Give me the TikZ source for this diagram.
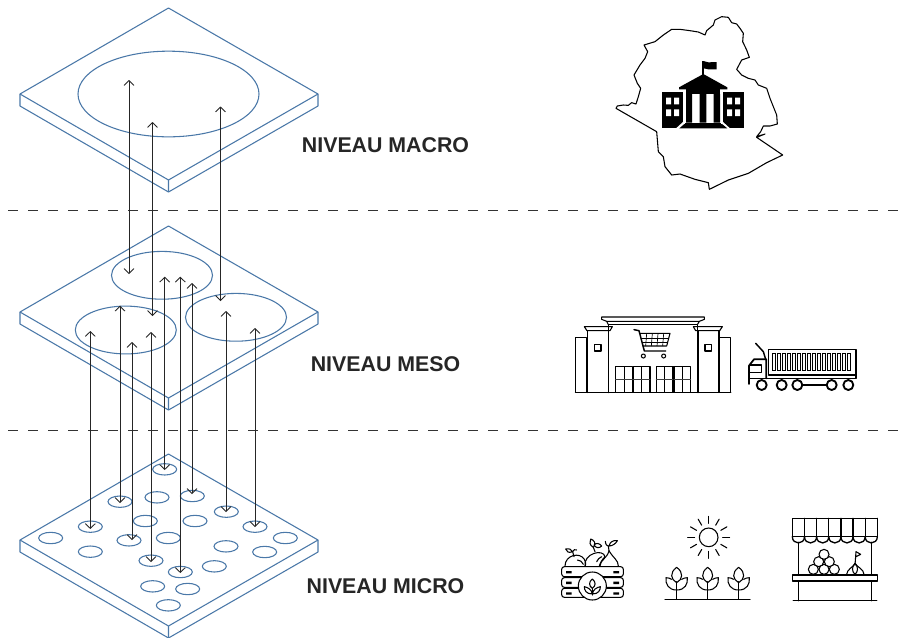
\documentclass[tikz,border=0pt]{standalone}
\usepackage{fontspec}
\setmainfont{Liberation Sans}
\usetikzlibrary{arrows.meta,shapes.geometric}
\definecolor{plate}{HTML}{4A78A8}
\tikzset{
  plateline/.style={draw=plate,line width=0.8pt,line join=round},
  disc/.style={ellipse,draw=plate,line width=0.8pt,inner sep=0pt,minimum width=#1*1.5pt,minimum height=#1*0.71pt},
  link/.style={draw=black!85,line width=0.65pt,{Straight Barb[length=3.6pt,width=7.5pt]}-{Straight Barb[length=3.6pt,width=7.5pt]}},
  levelsep/.style={draw=black!80,line width=0.7pt,dash pattern=on 7.5pt off 7.5pt},
  level/.style={font=\bfseries\fontsize{16}{19}\selectfont,text=black!85,inner sep=0pt},
  ico/.style={line width=0.8pt,draw=black,line join=round,line cap=round},
  icothin/.style={line width=0.5pt,draw=black},
  zoomed/.style={x=0.25pt,y=-0.25pt}
}
\newcommand{\plateat}[1]{%
  \draw[plateline,fill=white] (168.5,#1) -- (318,#1+86) -- (318,#1+98) -- (168.5,#1+184) -- (20,#1+98) -- (20,#1+86) -- cycle;
  \draw[plateline] (20,#1+86) -- (168.5,#1+172) -- (318,#1+86) (168.5,#1+172) -- (168.5,#1+184);
}
\begin{document}
\begin{tikzpicture}[x=0.75pt,y=-0.75pt]
\useasboundingbox (0,0) rectangle (899,637);
\fill[white] (0,0) rectangle (899,637);

% plates
\plateat{8}
\plateat{226}
\plateat{454}

% macro and meso discs
\node[disc=90.5] (macro) at (168.5,94) {};
\node[disc=50.5] (mesoA) at (162,275.3) {};
\node[disc=50.5] (mesoB) at (125.8,330) {};
\node[disc=50.5] (mesoC) at (236,317.3) {};

% micro discs
\foreach \i/\a/\b in {1/494/118,2/360/215,3/471/202,4/577/198,5/271/290,6/436/273,7/585/273,8/679/245,9/765/290,10/856/324,11/152/324,12/387/331,13/505/324,14/678/349,15/271/365,16/794/366,17/453/392,18/643/409,19/541/426,20/458/469,21/563/477,22/505/526}
  \node[disc=12] (micro\i) at ({\a/3},{430+\b/3}) {};

% level separators
\coordinate (sepAl) at (8,210); \coordinate (sepAr) at (898,210);
\coordinate (sepBl) at (8,430); \coordinate (sepBr) at (898,430);
\draw[levelsep] (sepAl) -- (sepAr);
\draw[levelsep] (sepBl) -- (sepBr);

% two-way links
\foreach \i/\x/\t/\b in {1/129/80/274,2/152.5/122/316,3/220.5/106.5/301,
  4/90.3/331/529,5/120/305.7/503,6/132/342/540,7/151/332/562,8/164.7/276.7/470,
  9/180.3/276.7/573,10/192/283/494,11/226/311/512,12/255/328/527}{
  \coordinate (up\i) at (\x,\t);
  \coordinate (down\i) at (\x,\b);
  \draw[link] (up\i) -- (down\i);
}

% labels
\node[level] (lmacro) at (385.5,145) {NIVEAU MACRO};
\node[level] (lmeso) at (385.5,364) {NIVEAU MESO};
\node[level] (lmicro) at (385.5,586) {NIVEAU MICRO};

% Region outline and town hall
\begin{scope}[shift={(600,0)},x=0.25pt,y=-0.25pt]
\draw[line width=0.8pt,line join=round] (48,325) -- (52,318) -- (70,315) -- (85,316) -- (95,308) -- (108,312) -- (115,290) -- (122,265) -- (112,250) -- (102,225) -- (120,195) -- (135,175) -- (143,155) -- (132,135) -- (165,125) -- (190,105) -- (215,88) -- (240,88) -- (270,92) -- (295,96) -- (315,105) -- (320,92) -- (340,75) -- (345,60) -- (365,50) -- (385,52) -- (395,68) -- (410,72) -- (420,85) -- (430,100) -- (428,125) -- (440,150) -- (448,172) -- (425,180) -- (410,208) -- (425,225) -- (445,235) -- (465,240) -- (475,255) -- (500,265) -- (510,295) -- (520,320) -- (530,345) -- (532,372) -- (510,378) -- (490,378) -- (482,395) -- (470,410) -- (495,402) -- (470,412) -- (548,465) -- (500,488) -- (445,520) -- (385,540) -- (328,568) -- (325,548) -- (285,538) -- (240,522) -- (215,525) -- (195,500) -- (190,470) -- (175,455) -- (170,395) -- cycle;
\fill (186,275) rectangle (250,385);
\fill (368,275) rectangle (432,385);
\fill[white] (198,293) rectangle (213,313) (222,293) rectangle (237,313) (198,328) rectangle (213,348) (222,328) rectangle (237,348);
\fill[white] (381,293) rectangle (396,313) (405,293) rectangle (420,313) (381,328) rectangle (396,348) (405,328) rectangle (420,348);
\fill[white] (250,385) -- (228,385) -- (250,365) -- cycle (368,385) -- (390,385) -- (368,365) -- cycle;
\fill (237,268) -- (237,262) -- (310,222) -- (382,262) -- (382,268) -- cycle;
\fill (258,268) rectangle (360,282);
\fill (258,282) rectangle (276,368) (299,282) rectangle (319,368) (341,282) rectangle (360,368);
\fill (255,368) rectangle (363,372);
\fill (238,385) -- (253,372) -- (366,372) -- (382,385) -- cycle;
\fill (306,182) rectangle (311,225);
\fill (310,183) -- (325,187) -- (350,186) -- (350,208) -- (325,208) -- (311,205) -- cycle;
\end{scope}

% Supermarket
\begin{scope}[shift={(565,310)},zoomed]
\draw[ico] (32,247) -- (32,83) -- (65,83) -- (65,247);
\draw[ico] (464,247) -- (464,83) -- (497,83) -- (497,247);
\draw[ico,line width=1.1pt] (68,247) -- (68,62) -- (130,62) -- (130,247);
\draw[ico,line width=1.1pt] (400,247) -- (400,62) -- (462,62) -- (462,247);
\draw[ico] (58,50) -- (142,50) -- (135,62) -- (66,62) -- cycle;
\draw[ico] (392,62) -- (385,50) -- (472,50) -- (464,62) -- cycle;
\draw[ico,line width=1.1pt] (130,50) -- (130,44) -- (397,44) -- (397,50);
\draw[ico] (110,21) -- (418,21) -- (418,28) -- (403,34) -- (125,34) -- (110,28) -- cycle;
\draw[ico] (125,34) -- (130,44) (403,34) -- (397,44);
\draw[ico,line width=1.1pt] (130,50) -- (130,247) (397,50) -- (397,247);
\draw[ico,line width=1.1pt] (32,247) -- (497,247);
\draw[ico] (88,103) rectangle (108,123) (420,103) rectangle (440,123);
% cart
\draw[ico,line width=1.1pt] (207,59) -- (222,62) -- (238,123) -- (302,123);
\draw[ico] (226,70) -- (315,70) -- (305,108) -- (234,108);
\draw[icothin] (228,84) -- (311,84) (232,96) -- (308,96);
\foreach \x in {245,262,279,296} \draw[icothin] (\x,70) -- (\x-3,108);
\draw[ico] (235,138) circle[radius=6] (296,138) circle[radius=6];
% doors
\foreach \xa in {152,205,274,327}{
  \draw[ico] (\xa,247) -- (\xa,170) -- (\xa+50,170) -- (\xa+50,247);
  \draw[icothin,line width=0.7pt] (\xa+25,170) -- (\xa+25,247);
  \draw[ico,draw=black!75] (\xa,208) -- (\xa+50,208);
}
\end{scope}

% Truck
\begin{scope}[shift={(565,310)},zoomed]
\draw[ico,line width=1.1pt] (610,118) rectangle (873,195);
\draw[ico,line width=1.1pt] (610,205) -- (873,205) -- (873,195);
\foreach \x in {622,637,652,667,682,697,712,727,742,757,772,787,802,817,832,847}
  \draw[icothin] (\x,130) rectangle (\x+9,180);
\draw[ico,line width=1.1pt] (572,100) -- (595,125) -- (602,148);
\draw[ico,line width=1.3pt] (552,222) -- (552,167) -- (567,148) -- (604,148) -- (604,205);
\draw[ico,line width=1.1pt] (556,165) -- (590,165) -- (590,187) -- (552,187);
\draw[ico,line width=1.1pt] (552,205) -- (610,205);
\foreach \x in {590,650,697,800,850}
  \draw[ico,line width=1.4pt,fill=white] (\x,225) circle[radius=15];
\draw[ico,line width=1.1pt] (715,225) -- (782,225);
\end{scope}

% Crate
\begin{scope}[shift={(550,510)},zoomed]
\draw[ico,rounded corners=2pt] (35,170) rectangle (220,200) (35,203) rectangle (220,232) (35,235) rectangle (220,262);
\foreach \y in {183,215,247}
  \fill (48,\y) rectangle (65,\y+7) (190,\y) rectangle (207,\y+7);
\draw[ico,fill=white] (127,228) circle[radius=42];
\draw[ico] (127,207) .. controls (116,215) and (116,228) .. (127,235) .. controls (138,228) and (138,215) .. (127,207);
\draw[ico] (127,235) -- (127,255);
\draw[ico] (127,252) .. controls (108,252) and (103,240) .. (103,230) .. controls (113,232) and (125,238) .. (127,252);
\draw[ico] (127,252) .. controls (146,252) and (151,240) .. (151,230) .. controls (141,232) and (129,238) .. (127,252);
% fruits
\draw[ico] (45,168) .. controls (45,135) and (90,125) .. (103,148) .. controls (108,158) and (108,165) .. (106,168);
\draw[ico] (105,168) .. controls (100,130) and (160,115) .. (165,140) .. controls (155,150) and (150,160) .. (148,168);
\draw[ico] (150,168) .. controls (150,150) and (172,145) .. (177,122) .. controls (190,145) and (205,150) .. (205,168);
\draw[ico] (72,140) -- (68,125) (68,125) .. controls (55,130) and (50,125) .. (47,117) .. controls (58,115) and (65,118) .. (68,125) .. controls (70,118) and (75,118) .. (80,120);
\draw[ico] (135,125) -- (130,112) (130,112) .. controls (118,105) and (118,95) .. (122,87) .. controls (132,90) and (140,100) .. (130,112) (132,105) .. controls (140,97) and (148,100) .. (155,108) .. controls (148,115) and (138,115) .. (132,105);
\draw[ico] (177,122) -- (175,108) (175,108) .. controls (165,105) and (168,98) .. (166,94) (177,108) .. controls (188,108) and (198,100) .. (202,92) .. controls (190,90) and (180,95) .. (177,108);
\draw[ico] (82,150) .. controls (90,150) and (97,155) .. (100,163);
\draw[ico] (155,140) .. controls (148,143) and (143,148) .. (140,155);
\end{scope}

% Sun and crops
\begin{scope}[shift={(550,510)},zoomed]
\draw[ico] (476,82) circle[radius=28];
\foreach \a in {0,30,...,330}
  \draw[ico] (476,82) ++(\a:42) -- ++(\a:21);
\draw[ico] (345,268) -- (600,268);
\foreach \x in {380,473,566}{
  \draw[ico] (\x,215) -- (\x,268);
  \draw[ico] (\x,172) .. controls (\x-22,188) and (\x-18,208) .. (\x,218) .. controls (\x+18,208) and (\x+22,188) .. (\x,172);
  \draw[ico] (\x,240) .. controls (\x-25,240) and (\x-34,222) .. (\x-32,203) .. controls (\x-25,203) and (\x-20,205) .. (\x-15,208);
  \draw[ico] (\x,240) .. controls (\x+25,240) and (\x+34,222) .. (\x+32,203) .. controls (\x+25,203) and (\x+20,205) .. (\x+15,208);
}
\end{scope}

% Market stall
\begin{scope}[shift={(550,510)},zoomed]
\draw[ico,line width=1.1pt] (727,80) -- (727,25) -- (982,25) -- (982,80);
\foreach \i in {0,...,6}{
  \pgfmathsetmacro{\xl}{727+36.43*\i}
  \pgfmathsetmacro{\xr}{\xl+36.43}
  \draw[ico,line width=1pt] (\xr,25) -- (\xr,80);
  \draw[ico,line width=1pt] (\xl,80) .. controls (\xl,105) and (\xr,105) .. (\xr,80);
}
\draw[ico] (727,80) -- (982,80);
\draw[ico,line width=1.1pt] (745,97) -- (745,272) (965,97) -- (965,272);
\draw[ico,line width=1.1pt,fill=white] (727,195) rectangle (982,213);
\draw[ico,line width=1.1pt] (730,272) -- (980,272);
\foreach \x/\y in {790/178,822/178,853/178,806/155,838/155,822/133}
  \draw[ico,fill=white] (\x,\y) circle[radius=15];
\draw[ico] (915,165) -- (918,125) -- (932,133) -- (918,140);
\draw[ico] (890,193) .. controls (890,178) and (912,170) .. (915,160) .. controls (920,170) and (942,178) .. (942,193);
\draw[ico] (915,160) .. controls (905,170) and (905,185) .. (915,193) .. controls (925,185) and (925,170) .. (915,160);
\end{scope}
\end{tikzpicture}
\end{document}
